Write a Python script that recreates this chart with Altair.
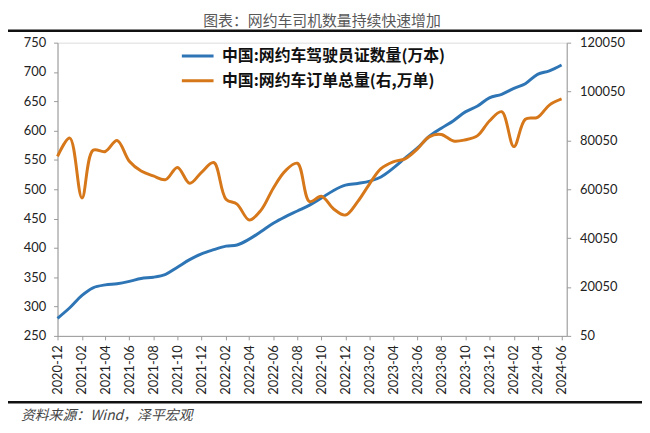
import altair as alt
import pandas as pd

months = [
    "2020-12", "2021-01", "2021-02", "2021-03", "2021-04", "2021-05", "2021-06",
    "2021-07", "2021-08", "2021-09", "2021-10", "2021-11", "2021-12", "2022-01",
    "2022-02", "2022-03", "2022-04", "2022-05", "2022-06", "2022-07", "2022-08",
    "2022-09", "2022-10", "2022-11", "2022-12", "2023-01", "2023-02", "2023-03",
    "2023-04", "2023-05", "2023-06", "2023-07", "2023-08", "2023-09", "2023-10",
    "2023-11", "2023-12", "2024-01", "2024-02", "2024-03", "2024-04", "2024-05",
    "2024-06",
]
drivers = [
    280, 298, 319, 332, 337, 339, 343, 348, 350, 355, 367, 380, 390, 397,
    403, 405, 415, 428, 442, 453, 463, 473, 485, 498, 507, 510, 514, 521,
    536, 553, 570, 590, 604, 617, 632, 642, 656, 662, 672, 680, 696, 702,
    712,
]
orders = [
    73500, 81000, 56500, 76000, 75500, 80000, 71500, 67500, 65500, 64000,
    69000, 62500, 67000, 71000, 56000, 54000, 47500, 51500, 60500, 67500,
    70700, 55000, 57200, 52000, 49500, 55000, 62500, 68500, 71300, 72500,
    76500, 81500, 82500, 79800, 80300, 82000, 88000, 91800, 77500, 88700,
    89500, 94500, 97000,
]
left_ticks = [250, 300, 350, 400, 450, 500, 550, 600, 650, 700, 750]
right_ticks = [50, 20050, 40050, 60050, 80050, 100050, 120050]
series_names = ["中国:网约车驾驶员证数量(万本)", "中国:网约车订单总量(右,万单)"]
series_colors = ["#2E75B6", "#D6771A"]
title_text = "图表：网约车司机数量持续快速增加"
source_text = "资料来源：Wind，泽平宏观"

dates = pd.to_datetime([m + "-01" for m in months])
df_drivers = pd.DataFrame({"date": dates, "value": drivers, "series": series_names[0]})
df_orders = pd.DataFrame({"date": dates, "value": orders, "series": series_names[1]})
tick_dates = [alt.DateTime(year=int(m[:4]), month=int(m[5:]), date=1) for m in months[::2]]

NUM_FONT = "Lato"
CJK_FONT = "Noto Sans CJK SC"

x_enc = alt.X(
    "date:T",
    scale=alt.Scale(domain=[alt.DateTime(year=2020, month=12, date=1),
                            alt.DateTime(year=2024, month=6, date=14)]),
    axis=alt.Axis(
        values=tick_dates, format="%Y-%m", title=None, labelAngle=270,
        labelAlign="right", labelBaseline="middle", labelPadding=5,
        labelFont=NUM_FONT, labelFontSize=13, labelColor="#222222",
        tickSize=4, tickColor="#9A9A9A", domainColor="#9A9A9A", grid=False,
        labelOverlap=False,
    ),
)

color_enc = alt.Color(
    "series:N",
    scale=alt.Scale(domain=series_names, range=series_colors),
    legend=alt.Legend(
        title=None, orient="none", legendX=132, legendY=4, padding=0,
        symbolType="M-2,0H2", symbolSize=256, symbolStrokeWidth=3,
        labelFont=CJK_FONT, labelFontSize=16, labelFontWeight="bold",
        labelColor="#111111", labelOffset=15, rowPadding=7, labelLimit=400,
    ),
)

blue = alt.Chart(df_drivers).mark_line(strokeWidth=3, interpolate="catmull-rom").encode(
    x=x_enc,
    y=alt.Y(
        "value:Q",
        scale=alt.Scale(domain=[250, 750], nice=False, zero=False),
        axis=alt.Axis(
            values=left_ticks, title=None, orient="left", grid=False,
            labelFont=NUM_FONT, labelFontSize=13, labelColor="#222222",
            labelPadding=8, tickSize=4, tickColor="#9A9A9A", domainColor="#9A9A9A",
        ),
    ),
    color=color_enc,
)

orange = alt.Chart(df_orders).mark_line(strokeWidth=3, interpolate="catmull-rom").encode(
    x=x_enc,
    y=alt.Y(
        "value:Q",
        scale=alt.Scale(domain=[50, 120050], nice=False, zero=False),
        axis=alt.Axis(
            values=right_ticks, title=None, orient="right", grid=False, format="d",
            labelFont=NUM_FONT, labelFontSize=13, labelColor="#222222",
            labelPadding=9, tickSize=4, tickColor="#9A9A9A", domainColor="#9A9A9A",
        ),
    ),
    color=color_enc,
)

dummy = pd.DataFrame({"a": [0]})

top_rule = alt.Chart(dummy).mark_rule(color="#111111", strokeWidth=2.5).encode(
    x=alt.value(-53), x2=alt.value(592), y=alt.value(-12)
)
bottom_rule = alt.Chart(dummy).mark_rule(color="#111111", strokeWidth=2.5).encode(
    x=alt.value(-50), x2=alt.value(592), y=alt.value(363)
)
title_mark = alt.Chart(dummy).mark_text(
    font=CJK_FONT, fontSize=15, color="#595959", align="center", baseline="middle"
).encode(x=alt.value(267), y=alt.value(-22), text=alt.value(title_text))
source_mark = alt.Chart(dummy).mark_text(
    font=CJK_FONT, fontSize=14, fontStyle="italic", color="#444444",
    align="left", baseline="middle",
).encode(x=alt.value(-37), y=alt.value(377), text=alt.value(source_text))

chart = (
    alt.layer(blue, orange, top_rule, bottom_rule, title_mark, source_mark)
    .resolve_scale(y="independent")
    .properties(
        width=514, height=296,
        padding={"left": 50, "top": 33, "right": 76, "bottom": 92},
        autosize=alt.AutoSizeParams(type="none"),
    )
    .configure_view(stroke=None)
    .configure(background="white")
)

chart.save("out.html", embed_options={"renderer": "svg", "actions": False})
